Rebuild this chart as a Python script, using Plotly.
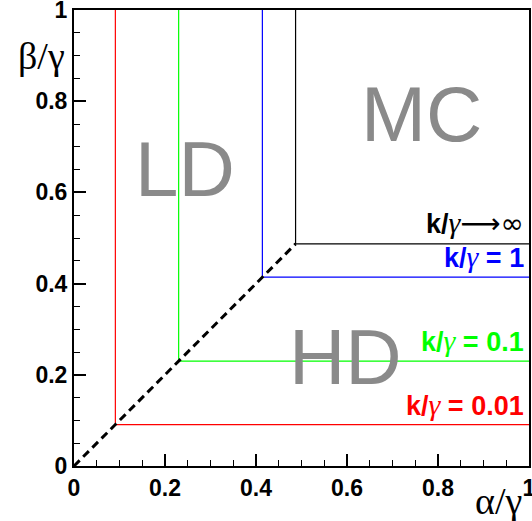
import plotly.graph_objects as go

# data
k_labels = ["k/γ = 0.01", "k/γ = 0.1", "k/γ = 1", "k/γ→∞"]
thresholds = [0.0909, 0.23, 0.414, 0.487]
line_colors = ["#ff0000", "#00ff00", "#0000ff", "#000000"]
phase_names = ["LD", "MC", "HD"]
phase_x = [0.243, 0.763, 0.596]
phase_y = [0.651, 0.773, 0.238]
tick_vals = [0, 0.2, 0.4, 0.6, 0.8, 1]
tick_text = ["0", "0.2", "0.4", "0.6", "0.8", "1"]

fig = go.Figure()
for t, c in zip(thresholds, line_colors):
    fig.add_trace(go.Scatter(x=[t, t, 1], y=[1, t, t], mode="lines",
                             line=dict(color=c, width=1.2), showlegend=False,
                             hoverinfo="skip"))
fig.add_trace(go.Scatter(x=[0, thresholds[-1]], y=[0, thresholds[-1]], mode="lines",
                         line=dict(color="#000000", width=3, dash="8px,5px"),
                         showlegend=False, hoverinfo="skip"))

for name, x, y in zip(phase_names, phase_x, phase_y):
    fig.add_annotation(x=x, y=y, text=name, showarrow=False, xanchor="center",
                       yanchor="middle",
                       font=dict(family="Liberation Sans", size=78, color="#8a8a8a"))

for lab, t, c in zip(k_labels, thresholds, line_colors):
    pre, post = lab.split("γ")
    gam = "<span style='font-family:Liberation Serif;font-size:30px'><i>γ</i></span>"
    if post.startswith("→"):
        rest = ("<span style='font-family:DejaVu Sans;font-size:28px'>"
                + post.replace("→", "⟶") + "</span>")
    else:
        rest = "<b>" + post + "</b>"
    txt = "<b>" + pre + "</b>" + gam + rest
    fig.add_annotation(x=0.993, y=t + 0.004, text=txt, showarrow=False,
                       xanchor="right", yanchor="bottom",
                       font=dict(family="Liberation Sans", size=27, color=c))

# axis titles
fig.add_annotation(xref="paper", yref="paper", x=-0.015, y=0.9, text="β/γ",
                   showarrow=False, xanchor="right", yanchor="middle",
                   font=dict(family="Liberation Serif", size=38, color="#000"))
fig.add_annotation(xref="paper", yref="paper", x=0.99, y=-0.077, text="α/γ",
                   showarrow=False, xanchor="right", yanchor="middle",
                   font=dict(family="Liberation Serif", size=38, color="#000"))

axis_common = dict(range=[0, 1.00001], tickvals=tick_vals, ticktext=tick_text,
                   ticks="inside", ticklen=12, tickwidth=1.5, tickcolor="#000",
                   showline=True, linecolor="#000", linewidth=2, mirror=True,
                   showgrid=False, zeroline=False, ticklabeloverflow="allow",
                   automargin=False,
                   tickfont=dict(family="Liberation Sans", size=23, color="#000", weight="bold"),
                   minor=dict(dtick=0.05, ticks="inside", ticklen=6, tickwidth=1.2,
                              tickcolor="#000", showgrid=False))
fig.update_xaxes(**axis_common)
fig.update_yaxes(**axis_common)

fig.update_layout(width=532, height=521, margin=dict(l=74, r=3, t=10, b=55, pad=0,
                                                     autoexpand=False),
                  plot_bgcolor="white", paper_bgcolor="white", showlegend=False)

fig.write_html("out.html", config={"displayModeBar": False},
               post_script="document.body.style.margin='0';document.body.style.overflow='hidden';")
